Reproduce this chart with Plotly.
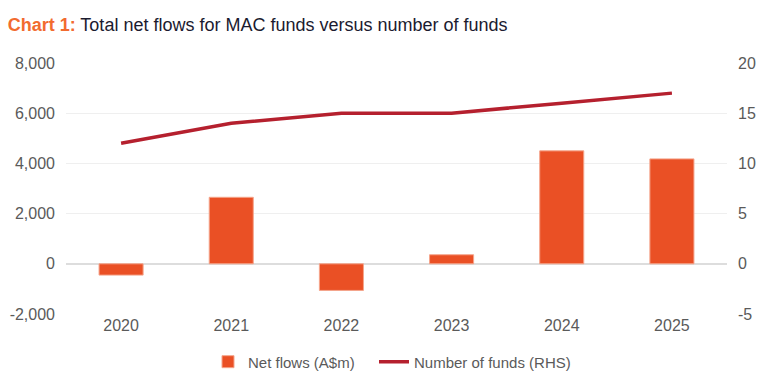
import plotly.graph_objects as go

years = ["2020", "2021", "2022", "2023", "2024", "2025"]
net_flows = [-450, 2650, -1060, 360, 4500, 4180]
num_funds = [12, 14, 15, 15, 16, 17]
left_ticks = [-2000, 0, 2000, 4000, 6000, 8000]
left_labels = ["-2,000", "0", "2,000", "4,000", "6,000", "8,000"]
right_ticks = [-5, 0, 5, 10, 15, 20]
right_labels = ["-5", "0", "5", "10", "15", "20"]

fig = go.Figure()
fig.add_trace(go.Bar(
    x=years, y=net_flows, name="Net flows (A$m)",
    marker=dict(color="#EA5025", line=dict(color="#F5A58C", width=1)),
    yaxis="y", legend="legend",
))
fig.add_trace(go.Scatter(
    x=years, y=num_funds, name="Number of funds (RHS)",
    mode="lines", line=dict(color="#B5202E", width=3.5),
    yaxis="y2", legend="legend2",
))

tickfont = dict(family="Liberation Sans, Arial, sans-serif", size=16, color="#5A5A5A")
legfont = dict(family="Liberation Sans, Arial, sans-serif", size=15, color="#5A5A5A")
fig.update_layout(
    width=768, height=383,
    margin=dict(l=66, r=41, t=63, b=69, autoexpand=False),
    paper_bgcolor="white", plot_bgcolor="white",
    bargap=0.6,
    font=dict(family="Liberation Sans, Arial, sans-serif"),
    title=dict(
        text="<b><span style='color:#F26B2F'>Chart 1:</span></b> Total net flows for MAC funds versus number of funds",
        x=0.01, xanchor="left", xref="container", y=0.935, yanchor="middle", yref="container",
        font=dict(size=18, color="#1B1B2F"),
    ),
    xaxis=dict(tickfont=tickfont, showgrid=False, showline=False, ticks="", automargin=False),
    yaxis=dict(range=[-2000, 8000], tickvals=left_ticks, ticktext=left_labels, tickfont=tickfont,
               gridcolor="#EFEFEF", zeroline=True, zerolinecolor="#DDDDDD", zerolinewidth=1.5,
               ticks="", ticklabelstandoff=10, automargin=False),
    yaxis2=dict(range=[-5, 20], tickvals=right_ticks, ticktext=right_labels, overlaying="y",
                side="right", tickfont=tickfont, showgrid=False, zeroline=False, ticks="",
                ticklabelstandoff=10, automargin=False),
    legend=dict(orientation="h", x=208 / 768, xanchor="left", xref="container",
                y=0.055, yanchor="middle", yref="container", font=legfont),
    legend2=dict(orientation="h", x=374 / 768, xanchor="left", xref="container",
                 y=0.055, yanchor="middle", yref="container", font=legfont),
    showlegend=True,
)
fig.write_html(
    "out.html",
    config={"displayModeBar": False},
    post_script="document.body.style.margin='0';document.body.style.overflow='hidden';",
)
